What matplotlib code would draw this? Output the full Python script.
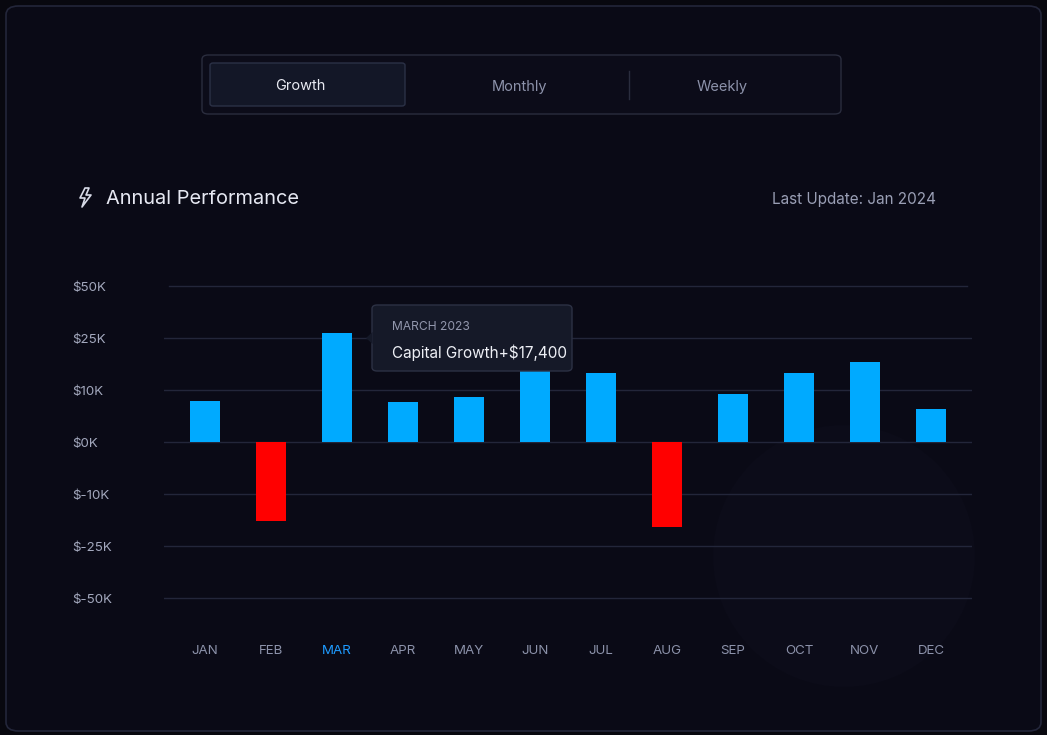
import numpy as np
import matplotlib
matplotlib.use("Agg")
import matplotlib.pyplot as plt
from matplotlib.patches import FancyBboxPatch, Polygon, Ellipse
import matplotlib.transforms as mtransforms

# chart data (values in $K)
months = ["JAN", "FEB", "MAR", "APR", "MAY", "JUN", "JUL", "AUG", "SEP", "OCT", "NOV", "DEC"]
growth = [7.8, -17.7, 27.5, 7.6, 8.7, 17.0, 15.0, -19.6, 9.3, 15.0, 18.1, 6.4]
tick_values = [-50, -25, -10, 0, 10, 25, 50]
tick_labels = ["$-50K", "$-25K", "$-10K", "$0K", "$10K", "$25K", "$50K"]
tabs = ["Growth", "Monthly", "Weekly"]
highlight = "MAR"
tooltip_title = "MARCH 2023"
tooltip_text = "Capital Growth+$17,400"

W, H = 1047, 735
BG = "#0a0a16"
GRID = "#23263a"
BLUE = "#00aaff"
RED = "#ff0000"
MUTED = "#8c92aa"
TXT_DY = 1.5  # Inter sits a bit high with va=center

plt.rcParams["font.family"] = ["Inter", "DejaVu Sans"]

fig = plt.figure(figsize=(W / 100, H / 100), dpi=100, facecolor="#08080f")


def fx(x):
    return x / W


def fy(y):
    return 1 - y / H


# card background + faint circle
card = FancyBboxPatch((fx(6), fy(731)), fx(1035), 725 / H,
                      boxstyle="round,pad=0,rounding_size=0.012",
                      transform=fig.transFigure, facecolor=BG,
                      edgecolor="#23263a", linewidth=1.2, zorder=-2)
fig.add_artist(card)
circ = Ellipse((fx(844), fy(556)), 262 / W, 262 / H, transform=fig.transFigure,
               facecolor="#0c0c19", edgecolor="none", zorder=-1)
fig.add_artist(circ)

# tab bar
tabbar = FancyBboxPatch((fx(202), fy(114)), fx(639), 59 / H,
                        boxstyle="round,pad=0,rounding_size=0.006",
                        transform=fig.transFigure, facecolor="#0c0c19",
                        edgecolor="#2a2d3e", linewidth=1.0, zorder=1)
fig.add_artist(tabbar)
active = FancyBboxPatch((fx(210), fy(106)), fx(195), 43 / H,
                        boxstyle="round,pad=0,rounding_size=0.003",
                        transform=fig.transFigure, facecolor="#131727",
                        edgecolor="#2b3146", linewidth=1.0, zorder=2)
fig.add_artist(active)
fig.add_artist(plt.Line2D([fx(629), fx(629)], [fy(71), fy(99)],
                          transform=fig.transFigure, color="#2a2d3e", lw=1, zorder=2))
tab_x = [300, 520, 722]
for name, x in zip(tabs, tab_x):
    fig.text(fx(x), fy(85 + TXT_DY), name, ha="center", va="center", fontsize=10.5,
             color="#e8eaf2" if name == "Growth" else MUTED, zorder=3)

# header
bolt = [(85, 188), (80, 198), (85, 198), (82, 207), (91, 195), (86, 195), (89, 188)]
fig.add_artist(Polygon([(fx(a), fy(b)) for a, b in bolt], closed=True,
                       transform=fig.transFigure, facecolor="none",
                       edgecolor="#d8dbe8", linewidth=1.2, joinstyle="round"))
fig.text(fx(106), fy(197 + TXT_DY), "Annual Performance", ha="left", va="center",
         fontsize=14.4, color="#e6e8f2")
fig.text(fx(936), fy(198 + TXT_DY), "Last Update: Jan 2024", ha="right", va="center",
         fontsize=11, color="#9a9fb5")

# chart axes with a stepped value scale
scale_vals = [-100] + tick_values + [100]
scale_pos = np.arange(-4, 5)


def fwd(v):
    return np.interp(v, scale_vals, scale_pos)


def inv(p):
    return np.interp(p, scale_pos, scale_vals)


ax = fig.add_axes([fx(164), fy(624), fx(808), 364 / H])
ax.set_zorder(5)
ax.set_facecolor("none")
ax.set_yscale("function", functions=(fwd, inv))
ax.set_ylim(inv(-3.5), inv(3.5))
ax.set_xlim(-0.621, 11.621)
for s in ax.spines.values():
    s.set_visible(False)
ax.set_xticks([])
ax.set_yticks([])
ax.minorticks_off()

for v in tick_values:
    if v == tick_values[-1]:
        ax.axhline(v, xmin=5 / 808, xmax=1 - 5 / 808, color=GRID, lw=1, zorder=1)
    else:
        ax.axhline(v, color=GRID, lw=1, zorder=1)

x = np.arange(len(months))
colors = [BLUE if g >= 0 else RED for g in growth]
ax.bar(x, growth, width=0.455, color=colors, zorder=2)

# tick labels, nudged down a touch to line up with the grid
nudge = mtransforms.ScaledTranslation(0, -TXT_DY / 100, fig.dpi_scale_trans)
ytrans = mtransforms.blended_transform_factory(ax.transAxes, ax.transData) + nudge
for v, lab in zip(tick_values, tick_labels):
    ax.text((72 - 164) / 808, v, lab, transform=ytrans, ha="left", va="center",
            fontsize=9.6, color="#a3a8bd", clip_on=False)

xtrans = mtransforms.blended_transform_factory(ax.transData, fig.transFigure)
for i, m in enumerate(months):
    ax.text(i, fy(650 + TXT_DY), m, transform=xtrans, ha="center", va="center",
            fontsize=9.6, color="#1e9bff" if m == highlight else MUTED, clip_on=False)

# tooltip
tip = FancyBboxPatch((fx(372), fy(371)), fx(200), 66 / H,
                     boxstyle="round,pad=0,rounding_size=0.005",
                     transform=fig.transFigure, facecolor="#151928",
                     edgecolor="#2c3144", linewidth=1.0, zorder=10)
fig.add_artist(tip)
fig.add_artist(Polygon([(fx(372.5), fy(332)), (fx(366), fy(338)), (fx(372.5), fy(344))],
                       closed=True, transform=fig.transFigure,
                       facecolor="#151928", edgecolor="none", zorder=11))
fig.text(fx(392), fy(325 + TXT_DY), tooltip_title, ha="left", va="center", fontsize=8.7,
         color="#9297ad", zorder=12)
fig.text(fx(392), fy(351 + TXT_DY), tooltip_text, ha="left", va="center", fontsize=11,
         color="#eef0f6", zorder=12)

fig.savefig("out.png", dpi=100, facecolor=fig.get_facecolor())
